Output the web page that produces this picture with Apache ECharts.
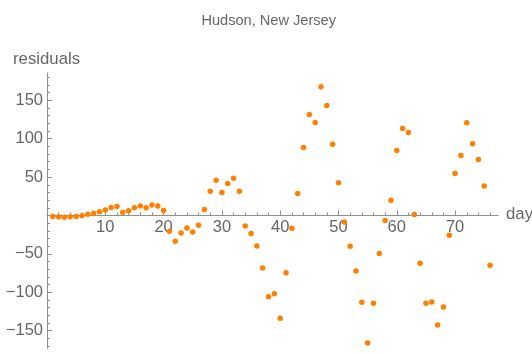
<!DOCTYPE html>
<html>
<head>
<meta charset="utf-8">
<script src="https://cdn.jsdelivr.net/npm/echarts@6/dist/echarts.min.js"></script>
<style>
html,body{margin:0;padding:0;background:#fff;}
#chart{width:532px;height:354px;}
</style>
</head>
<body>
<div id="chart"></div>
<script>
// Data
const days = [1,2,3,4,5,6,7,8,9,10,11,12,13,14,15,16,17,18,19,20,21,22,23,24,25,26,27,28,29,30,31,32,33,34,35,36,37,38,39,40,41,42,43,44,45,46,47,48,49,50,51,52,53,54,55,56,57,58,59,60,61,62,63,64,65,66,67,68,69,70,71,72,73,74,75,76];
const residuals = [-1.3,-1.7,-2.2,-1.7,-1.3,-0.4,1.7,3,4.8,7,10.4,11.7,4.3,6.1,10,12.2,10,13.5,12.2,6.5,
  -20.5,-33.5,-22.7,-16.2,-21.4,-12.7,7.8,31.6,46,29.9,41.7,48.6,31.6,-13.6,-23.5,-39.7,-68.4,-105.7,-101.8,-134,
  -74.7,-16.6,28.6,88.6,131.6,121.2,167.6,143.4,92.9,42.5,-8.4,-40,-72.3,-113,-166,-114.4,-49.6,-6.6,19.9,84.5,
  113.4,108.2,1.3,-62.2,-114.4,-112.7,-142.7,-119.2,-25.7,54.7,78.2,120.7,93.3,73,38.5,-64.8];
const xMajorTicks = [10,20,30,40,50,60,70];
const xMinorTicks = [2,4,6,8,12,14,16,18,22,24,26,28,32,34,36,38,42,44,46,48,52,54,56,58,62,64,66,68,72,74,76];
const yMajorTicks = [-150,-100,-50,50,100,150];
const yMinorTicks = [-170,-160,-140,-130,-120,-110,-90,-80,-70,-60,-40,-30,-20,-10,10,20,30,40,60,70,80,90,110,120,130,140,160,170,180];
const titleText = 'Hudson, New Jersey';
const xName = 'day';
const yName = 'residuals';

const FONT = 'Liberation Sans, Arial, sans-serif';
const AXIS_COLOR = '#8f8f8f';
const TEXT_COLOR = '#666666';
const fmt = v => v < 0 ? '\u2212' + Math.abs(v) : String(v);

const chart = echarts.init(document.getElementById('chart'), null, {renderer: 'canvas'});
const xRange = {min: 0, max: 77.36};
const yRange = {min: -173, max: 185.6};
const gridTop = 73, gridBottom = 5.7, H = 354;
const gridH = H - gridTop - gridBottom;
// move the x axis from the grid bottom up to where y = 0 sits
const zeroOffset = -gridH * (0 - yRange.min) / (yRange.max - yRange.min);

chart.setOption({
  animation: false,
  backgroundColor: '#ffffff',
  grid: {left: 47, right: 34, top: gridTop, bottom: gridBottom, containLabel: false, outerBoundsMode: 'none'},
  graphic: [
    {type: 'text', x: 268.7, y: 20.5, style: {text: titleText, fill: TEXT_COLOR, font: '14.6px ' + FONT, textAlign: 'center', textVerticalAlign: 'middle'}},
    {type: 'text', x: 13, y: 59.5, style: {text: yName, fill: TEXT_COLOR, font: '16.8px ' + FONT, textAlign: 'left', textVerticalAlign: 'middle'}},
    {type: 'text', x: 506, y: 214.5, style: {text: xName, fill: TEXT_COLOR, font: '16.8px ' + FONT, textAlign: 'left', textVerticalAlign: 'middle'}}
  ],
  xAxis: [
    {
      type: 'value', min: xRange.min, max: xRange.max, position: 'bottom', offset: zeroOffset,
      axisLine: {show: true, onZero: false, lineStyle: {color: AXIS_COLOR, width: 1}},
      axisTick: {show: true, inside: true, length: 5, customValues: xMajorTicks, lineStyle: {color: AXIS_COLOR}},
      axisLabel: {show: true, customValues: xMajorTicks, margin: 3, color: TEXT_COLOR, fontSize: 16.5, fontFamily: FONT},
      splitLine: {show: false}
    },
    {
      type: 'value', min: xRange.min, max: xRange.max, position: 'bottom', offset: zeroOffset,
      axisLine: {show: false, onZero: false},
      axisTick: {show: true, inside: true, length: 3, customValues: xMinorTicks, lineStyle: {color: AXIS_COLOR}},
      axisLabel: {show: false},
      splitLine: {show: false}
    }
  ],
  yAxis: [
    {
      type: 'value', min: yRange.min, max: yRange.max, position: 'left',
      axisLine: {show: true, onZero: false, lineStyle: {color: AXIS_COLOR, width: 1}},
      axisTick: {show: true, inside: true, length: 5, customValues: yMajorTicks, lineStyle: {color: AXIS_COLOR}},
      axisLabel: {show: true, customValues: yMajorTicks, margin: 4, color: TEXT_COLOR, fontSize: 16.5, fontFamily: FONT, formatter: fmt},
      splitLine: {show: false}
    },
    {
      type: 'value', min: yRange.min, max: yRange.max, position: 'left',
      axisLine: {show: false, onZero: false},
      axisTick: {show: true, inside: true, length: 3, customValues: yMinorTicks, lineStyle: {color: AXIS_COLOR}},
      axisLabel: {show: false},
      splitLine: {show: false}
    }
  ],
  series: [{
    type: 'scatter',
    xAxisIndex: 0, yAxisIndex: 0,
    data: days.map((d, i) => [d, residuals[i]]),
    symbol: 'circle',
    symbolSize: 5.5,
    itemStyle: {color: '#ff8000', opacity: 1},
    emphasis: {disabled: true}
  }]
});
</script>
</body>
</html>
